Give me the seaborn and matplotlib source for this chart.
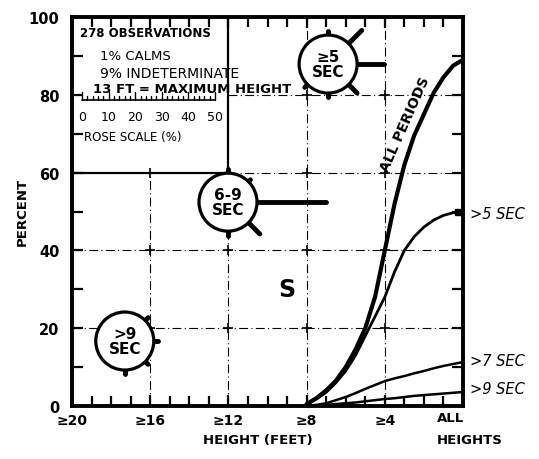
import numpy as np
import pandas as pd
import matplotlib
matplotlib.use("Agg")
import matplotlib.pyplot as plt
import seaborn as sns
from matplotlib.patches import Ellipse
from matplotlib.ticker import MultipleLocator

# ---------------- data ----------------
heights = [8, 7.5, 7, 6.5, 6, 5.5, 5, 4.5, 4, 3.5, 3, 2.5, 2, 1.5, 1, 0.5, 0]  # 0 = "ALL HEIGHTS"
all_periods = [0.5, 2, 4, 6.5, 10, 14.5, 20, 28, 40, 52, 62, 69.5, 75, 80.5, 84.5, 87.5, 89]
gt5_sec = [0.3, 1.8, 3.5, 6, 9, 13, 18, 23, 28, 34.5, 40, 43.5, 46, 47.8, 49, 49.7, 50]
gt7_sec = [0, 0.3, 0.7, 1.5, 2.3, 3.3, 4.4, 5.4, 6.4, 7.1, 7.7, 8.4, 9, 9.7, 10.3, 10.8, 11.3]
gt9_sec = [0, 0.1, 0.3, 0.5, 0.7, 0.9, 1.2, 1.5, 1.8, 2.0, 2.3, 2.6, 2.8, 3.0, 3.2, 3.4, 3.6]

x_ticks = [20, 16, 12, 8, 4, 0]
x_tick_labels = ["≥20", "≥16", "≥12", "≥8", "≥4", ""]
y_ticks = [0, 20, 40, 60, 80, 100]

rose_labels = ["≥5\nSEC", "6-9\nSEC", ">9\nSEC"]
rose_x = [6.9, 12.02, 17.3]
rose_y = [87.9, 52.4, 16.7]
# spoke lengths (%), directions N, NE, E, SE, S, SW, W, NW
rose_spokes = [
    [1.5, 7, 10, 4.5, 1.5, 1.5, 0, 0],
    [1.5, 1, 26, 6, 2, 0, 0, 0],
    [0, 1.5, 1.5, 1.5, 1.5, 0, 0, 0],
]
info_lines = ["278 OBSERVATIONS", "1% CALMS", "9% INDETERMINATE",
              "13 FT = MAXIMUM HEIGHT"]
scale_labels = [0, 10, 20, 30, 40, 50]

# ---------------- figure ----------------
sns.set_style("ticks")
plt.rcParams["font.family"] = ["DejaVu Sans"]
for k in ["text.color", "axes.labelcolor", "xtick.color", "ytick.color", "axes.edgecolor"]:
    plt.rcParams[k] = "black"
W, H = 539, 460
fig = plt.figure(figsize=(W / 100, H / 100), dpi=100)
L, R, T, B = 72, 463, 18, 407
ax = fig.add_axes([L / W, (H - B) / H, (R - L) / W, (B - T) / H])
kx = (R - L) / 20.0   # px per ft
ky = (B - T) / 100.0  # px per percent

n = len(heights)
df = pd.DataFrame({
    "height": heights * 4,
    "percent": all_periods + gt5_sec + gt7_sec + gt9_sec,
    "series": ["ALL"] * n + [">5"] * n + [">7"] * n + [">9"] * n,
})
sns.lineplot(data=df, x="height", y="percent", hue="series", size="series",
             sizes={"ALL": 3.0, ">5": 2.0, ">7": 1.8, ">9": 1.8},
             palette={"ALL": "black", ">5": "black", ">7": "black", ">9": "black"},
             legend=False, ax=ax, zorder=3)

ax.set_xlim(20, 0)
ax.set_ylim(0, 100)

# grid (dash-dot) with crosses, leaving the info box clear
gkw = dict(color="black", lw=0.8, ls=(0, (8, 3, 1, 3)), zorder=1)
ax.plot([16, 16], [0, 60], **gkw)
ax.plot([12, 12], [0, 60], **gkw)
ax.plot([8, 8], [0, 100], **gkw)
ax.plot([4, 4], [0, 100], **gkw)
for yv in [20, 40]:
    ax.plot([20, 0], [yv, yv], **gkw)
ax.plot([12, 0], [60, 60], **gkw)
ax.plot([12, 0], [80, 80], **gkw)
# info box solid edges
ax.plot([20, 12], [60, 60], color="black", lw=1.6, zorder=2)
ax.plot([12, 12], [60, 100], color="black", lw=1.6, zorder=2)
for xv in [16, 12, 8, 4]:
    for yv in [20, 40, 60, 80]:
        if xv >= 12 and yv > 60:
            continue
        ax.plot(xv, yv, marker="+", ms=7, mew=1.2, color="black", zorder=2)

# ticks
ax.set_xticks(x_ticks)
ax.set_xticklabels(x_tick_labels, fontsize=10, fontweight="bold")
ax.xaxis.set_minor_locator(MultipleLocator(1))
ax.set_yticks(y_ticks)
ax.set_yticklabels([str(v) for v in y_ticks], fontsize=10.5, fontweight="bold")
ax.yaxis.set_minor_locator(MultipleLocator(10))
ax.tick_params(which="both", direction="in", top=True, right=True, width=1.6,
               colors="black")
ax.tick_params(axis="x", which="major", length=8, pad=5)
ax.tick_params(axis="x", which="minor", length=7)
ax.tick_params(axis="y", which="both", length=8, pad=9)
for s in ax.spines.values():
    s.set_linewidth(2.8)
    s.set_color("black")

ax.set_xlabel("")
ax.set_ylabel("")
ax.text(10.5, -8.7, "HEIGHT (FEET)", ha="center", va="center", fontsize=9.5,
        fontweight="bold", clip_on=False)
ax.text(1.35, -2.9, "ALL", ha="left", va="center", fontsize=9.5,
        fontweight="bold", clip_on=False)
ax.text(1.35, -8.7, "HEIGHTS", ha="left", va="center", fontsize=9.5,
        fontweight="bold", clip_on=False)
fig.text(22 / W, 1 - 212 / H, "PERCENT", rotation=90, ha="center", va="center",
         fontsize=9.5, fontweight="bold")

# right-side series labels
for txt, yv in [(">5 SEC", 49.4), (">7 SEC", 11.6), (">9 SEC", 4.4)]:
    ax.text(-0.35, yv, txt, ha="left", va="center", fontsize=10.5,
            style="italic", clip_on=False)
ax.plot(0.25, 50, marker="s", ms=5, color="black", zorder=4, clip_on=False)

ax.text(2.95, 72.5, "ALL PERIODS", rotation=66, ha="center", va="center",
        fontsize=10, fontweight="bold")
ax.text(9.0, 30, "S", ha="center", va="center", fontsize=17, fontweight="bold")

# info text
ax.text(19.59, 96.1, info_lines[0], ha="left", va="center", fontsize=8.5, fontweight="bold")
ax.text(18.57, 90.0, info_lines[1], ha="left", va="center", fontsize=9.5)
ax.text(18.57, 85.6, info_lines[2], ha="left", va="center", fontsize=10)
ax.text(18.93, 81.5, info_lines[3], ha="left", va="center", fontsize=9.5,
        fontweight="bold", zorder=2)

# rose scale ruler
px_per_pct = 133 / 50.0
x0_ft = (R - 82) / kx
def sx(v):
    return x0_ft - v * px_per_pct / kx
ry = 78.6
ax.plot([sx(0), sx(50)], [ry, ry], color="black", lw=1.2)
for v in range(0, 51, 2):
    h = 2.2 if v % 10 == 0 else 1.0
    ax.plot([sx(v), sx(v)], [ry, ry + h], color="black", lw=1.0)
for v in scale_labels:
    ax.text(sx(v), 74.3, str(v), ha="center", va="center", fontsize=9)
ax.text(sx(0) - 0.1, 69.2, "ROSE SCALE (%)", ha="left", va="center", fontsize=8.5)

# wave roses
angles = np.deg2rad([0, 45, 90, 135, 180, 225, 270, 315])
r_px = 29
for lab, cx, cy, spokes in zip(rose_labels, rose_x, rose_y, rose_spokes):
    for ang, Lp in zip(angles, spokes):
        if Lp <= 0:
            continue
        dx, dy = np.sin(ang), np.cos(ang)
        r0, r1 = r_px, r_px + Lp * px_per_pct
        ax.plot([cx - dx * r0 / kx, cx - dx * r1 / kx],
                [cy + dy * r0 / ky, cy + dy * r1 / ky],
                color="black", lw=3.5, solid_capstyle="round", zorder=6)
    ax.add_patch(Ellipse((cx, cy), 2 * r_px / kx, 2 * r_px / ky,
                         facecolor="white", edgecolor="black", lw=2.3, zorder=7))
    ax.text(cx, cy, lab, ha="center", va="center", fontsize=11,
            fontweight="bold", linespacing=1.0, zorder=8)

fig.savefig("out.png", dpi=100, facecolor="white")
